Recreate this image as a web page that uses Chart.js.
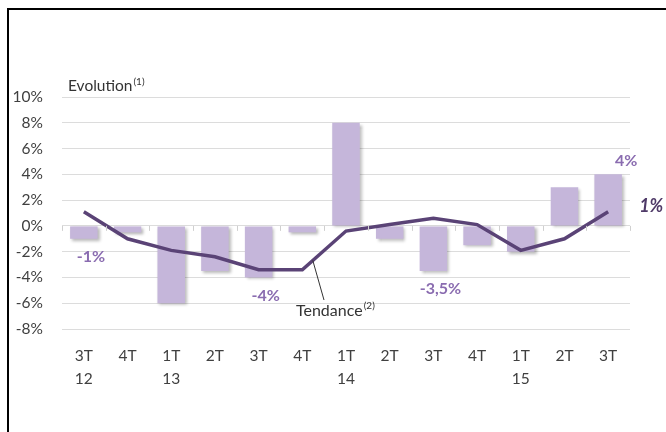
<!DOCTYPE html>
<html>
<head>
<meta charset="utf-8">
<script src="https://cdn.jsdelivr.net/npm/chart.js@4.4.1/dist/chart.umd.min.js"></script>
<style>
  html, body { margin: 0; padding: 0; background: #fff; }
  #wrap { width: 666px; height: 432px; position: relative; }
</style>
</head>
<body>
<div id="wrap"><canvas id="evolChart" width="666" height="432"></canvas></div>
<script>
// quarters (trimestres)
const quarters = [['3T', '12'], ['4T', ''], ['1T', '13'], ['2T', ''], ['3T', ''], ['4T', ''],
  ['1T', '14'], ['2T', ''], ['3T', ''], ['4T', ''], ['1T', '15'], ['2T', ''], ['3T', '']];
const evolution = [-1, -0.5, -6, -3.5, -4, -0.5, 8, -1, -3.5, -1.5, -2, 3, 4];
const tendance = [1.1, -1, -1.9, -2.4, -3.4, -3.4, -0.4, 0.1, 0.6, 0.1, -1.9, -1, 1.1];
const yTicks = [10, 8, 6, 4, 2, 0, -2, -4, -6, -8];
// value labels shown on some bars: [index, text, where]
const barLabels = [[0, '-1%', 'below'], [4, '-4%', 'below'], [8, '-3,5%', 'below'], [12, '4%', 'above']];
const lineEndLabel = '1%';

const FONT = 'Lato, "Open Sans", sans-serif';

// shadow under bars
const barShadow = {
  id: 'barShadow',
  beforeDatasetDraw(chart, args) {
    if (args.index !== 1) return;
    const c = chart.ctx;
    c.save();
    c.shadowColor = 'rgba(0,0,0,0.28)';
    c.shadowBlur = 3;
    c.shadowOffsetX = 2;
    c.shadowOffsetY = 2;
  },
  afterDatasetDraw(chart, args) {
    if (args.index !== 1) return;
    chart.ctx.restore();
  }
};

const decorations = {
  id: 'decorations',
  afterDraw(chart) {
    const c = chart.ctx;
    const area = chart.chartArea;
    const y = chart.scales.y;
    const y0 = y.getPixelForValue(0);

    // small ticks on the zero line
    c.save();
    c.strokeStyle = '#d0d0d0';
    c.lineWidth = 1;
    const step = (area.right - area.left) / quarters.length;
    for (let i = 0; i <= quarters.length; i++) {
      const px = Math.round(area.left + i * step) + 0.5;
      c.beginPath();
      c.moveTo(px, y0);
      c.lineTo(px, y0 + 5);
      c.stroke();
    }
    c.restore();

    // frame
    c.save();
    c.strokeStyle = '#000';
    c.lineWidth = 2;
    c.beginPath();
    c.moveTo(666, 9);
    c.lineTo(8, 9);
    c.lineTo(8, 432);
    c.stroke();
    c.restore();

    // axis title
    c.save();
    c.fillStyle = '#333';
    c.textBaseline = 'alphabetic';
    c.font = '15.5px ' + FONT;
    c.fillText('Evolution', 68, 91);
    let w = c.measureText('Evolution').width;
    c.font = '10px ' + FONT;
    c.fillText('(1)', 68 + w + 1, 85);
    c.restore();

    // bar value labels
    const bars = chart.getDatasetMeta(1).data;
    c.save();
    c.fillStyle = '#8a6cb0';
    c.font = 'bold 16px ' + FONT;
    c.textAlign = 'center';
    barLabels.forEach(([i, txt, where]) => {
      const b = bars[i];
      if (where === 'below') {
        c.textBaseline = 'top';
        c.fillText(txt, b.x + 7, b.y + 10);
      } else {
        c.textBaseline = 'bottom';
        c.fillText(txt, b.x + 18, b.y - 5);
      }
    });
    c.restore();

    // end of trend label
    const pts = chart.getDatasetMeta(0).data;
    const last = pts[pts.length - 1];
    c.save();
    c.fillStyle = '#4f3a68';
    c.font = 'italic bold 18px ' + FONT;
    c.textBaseline = 'middle';
    c.fillText(lineEndLabel, last.x + 31, last.y - 6);
    c.restore();

    // "Tendance" callout
    const p5 = pts[5], p6 = pts[6];
    const tx = p5.x + (p6.x - p5.x) * 0.24;
    const ty = p5.y + (p6.y - p5.y) * 0.24;
    c.save();
    c.strokeStyle = '#333';
    c.lineWidth = 1;
    c.beginPath();
    c.moveTo(tx, ty);
    c.lineTo(324, 300);
    c.stroke();
    c.fillStyle = '#333';
    c.font = '16px ' + FONT;
    c.textBaseline = 'alphabetic';
    c.fillText('Tendance', 296, 316);
    w = c.measureText('Tendance').width;
    c.font = '10px ' + FONT;
    c.fillText('(2)', 296 + w + 1, 309);
    c.restore();
  }
};

const ctx = document.getElementById('evolChart').getContext('2d');
new Chart(ctx, {
  data: {
    labels: quarters,
    datasets: [{
      type: 'line',
      label: 'Tendance',
      data: tendance,
      borderColor: '#5a4376',
      borderWidth: 3.5,
      pointRadius: 0,
      tension: 0,
      fill: false,
      order: 0
    }, {
      type: 'bar',
      label: 'Evolution',
      data: evolution,
      backgroundColor: '#c5b6da',
      barPercentage: 0.63,
      categoryPercentage: 1,
      order: 1
    }]
  },
  options: {
    responsive: false,
    animation: false,
    layout: { padding: { left: 0, right: 36, top: 97, bottom: 0 } },
    plugins: {
      legend: { display: false },
      tooltip: { enabled: false }
    },
    scales: {
      x: {
        grid: { display: false, drawTicks: false },
        border: { display: false },
        ticks: {
          color: '#404040',
          font: { family: FONT, size: 15.5, lineHeight: 1.5 },
          padding: 15,
          maxRotation: 0,
          autoSkip: false
        },
        afterFit(s) { s.height = 432 - 329; }
      },
      y: {
        min: -8,
        max: 10,
        afterBuildTicks(s) { s.ticks = yTicks.map(v => ({ value: v })); },
        grid: { color: '#dcdcdc', drawTicks: false },
        border: { display: false },
        ticks: {
          color: '#404040',
          font: { family: FONT, size: 15.5 },
          padding: 19,
          callback: v => v + '%'
        },
        afterFit(s) { s.width = 62; }
      }
    }
  },
  plugins: [barShadow, decorations]
});
</script>
</body>
</html>
